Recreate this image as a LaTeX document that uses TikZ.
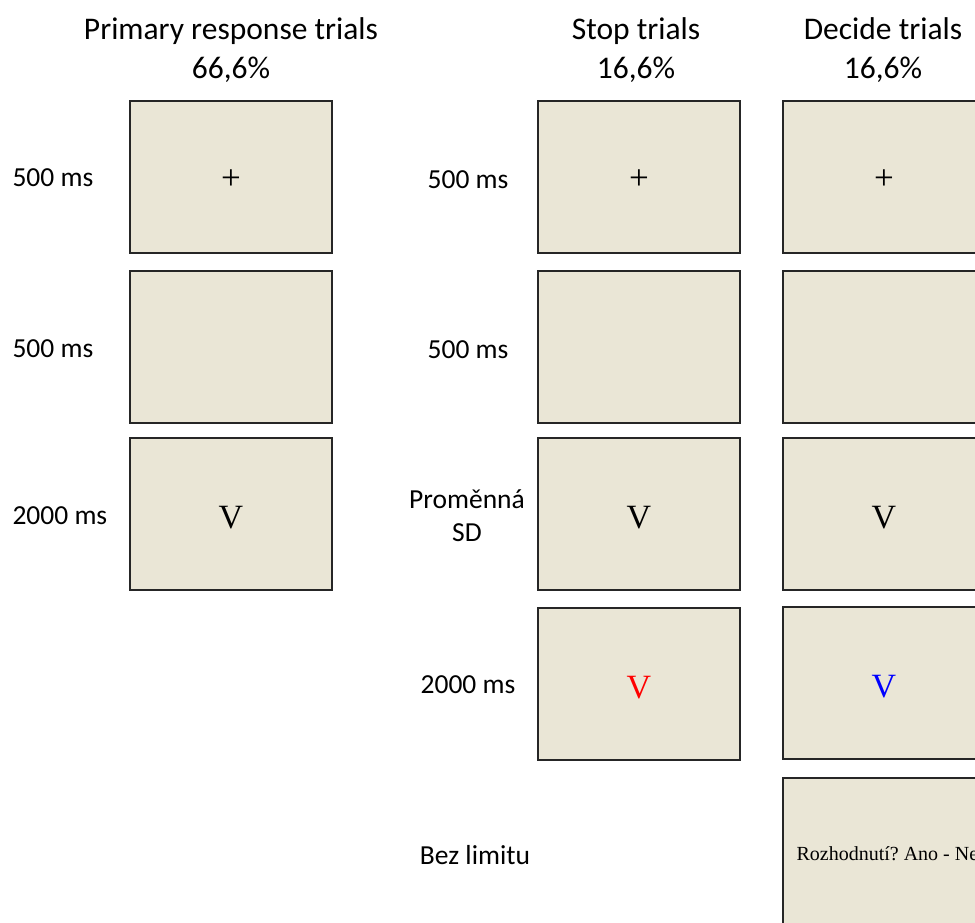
\documentclass[tikz,border=0pt]{standalone}
\usepackage{fontspec}
\setmainfont{Carlito}
\newfontfamily\stimfont{Liberation Serif}
\definecolor{screenfill}{HTML}{EAE6D6}
\frenchspacing
\newcommand{\stimplus}{\raisebox{-12.5pt}[0pt][0pt]{\stimfont\fontsize{35}{40}\selectfont +}}
\newcommand{\stimvee}[1]{\raisebox{-14pt}[0pt][0pt]{\stimfont\fontsize{34}{40}\selectfont\color{#1}V}}
\begin{document}
\begin{tikzpicture}[x=1pt,y=-1pt,
  screen/.style={draw=black!85,line width=1.6pt,fill=screenfill,minimum width=202pt,minimum height=152pt,inner sep=0pt,anchor=center},
  title/.style={font=\fontsize{31.5}{39}\selectfont,align=center,anchor=center},
  dur/.style={font=\fontsize{27.5}{33}\selectfont,align=center,anchor=center},
  durleft/.style={font=\fontsize{27.5}{33}\selectfont,anchor=west},
  cue/.style={font=\stimfont\fontsize{20}{24}\selectfont}]
\useasboundingbox (0,0) rectangle (975,922);
\clip (0,0) rectangle (975,922);
% titles
\node[title] (t1) at (231,50) {Primary response trials\\66,6\%};
\node[title] (t2) at (636,50) {Stop trials\\16,6\%};
\node[title] (t3) at (883,50) {Decide trials\\16,6\%};
% column 1
\node[screen] (a1) at (231,177) {\stimplus};
\node[screen] (a2) at (231,347) {};
\node[screen] (a3) at (231,514) {\stimvee{black}};
\node[durleft] (la1) at (9,178) {500 ms};
\node[durleft] (la2) at (9,349) {500 ms};
\node[durleft] (la3) at (9,516) {2000 ms};
% column 2
\node[screen] (b1) at (639,177) {\stimplus};
\node[screen] (b2) at (639,347) {};
\node[screen] (b3) at (639,514) {\stimvee{black}};
\node[screen] (b4) at (639,684) {\stimvee{red}};
\node[dur] (lb1) at (468,180) {500 ms};
\node[dur] (lb2) at (468,350) {500 ms};
\node[dur] (lb3) at (467,516) {Proměnná\\SD};
\node[dur] (lb4) at (468,685) {2000 ms};
\node[dur] (lb5) at (475,855) {Bez limitu};
% column 3
\node[screen] (c1) at (884,177) {\stimplus};
\node[screen] (c2) at (884,347) {};
\node[screen] (c3) at (884,514) {\stimvee{black}};
\node[screen] (c4) at (884,683) {\stimvee{blue}};
\node[screen] (c5) at (884,854) {};
\node[cue,anchor=west] (cuetext) at (793,854) {Rozhodnutí? Ano - Ne};
\end{tikzpicture}
\end{document}
